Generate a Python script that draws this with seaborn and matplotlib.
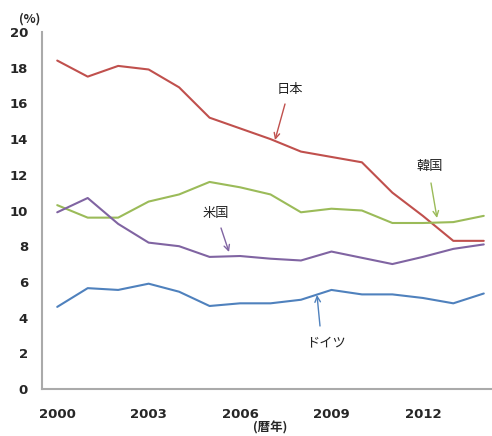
import matplotlib
matplotlib.use("Agg")
import matplotlib.pyplot as plt
import seaborn as sns
import pandas as pd

years = list(range(2000, 2015))
japan = [18.4, 17.5, 18.1, 17.9, 16.9, 15.2, 14.6, 14.0, 13.3, 13.0, 12.7, 11.0, 9.7, 8.3, 8.3]
korea = [10.3, 9.6, 9.6, 10.5, 10.9, 11.6, 11.3, 10.9, 9.9, 10.1, 10.0, 9.3, 9.3, 9.35, 9.7]
usa = [9.9, 10.7, 9.25, 8.2, 8.0, 7.4, 7.45, 7.3, 7.2, 7.7, 7.35, 7.0, 7.4, 7.85, 8.1]
germany = [4.6, 5.65, 5.55, 5.9, 5.45, 4.65, 4.8, 4.8, 5.0, 5.55, 5.3, 5.3, 5.1, 4.8, 5.35]
series_names = ["日本", "韓国", "米国", "ドイツ"]
colors = ["#C0504D", "#9BBB59", "#8064A2", "#4F81BD"]
year_labels = ["2000", "2003", "2006", "2009", "2012"]

sns.set_style("white")
plt.rcParams["font.family"] = ["Noto Sans CJK JP", "DejaVu Sans"]

rows = []
for name, vals in zip(series_names, [japan, korea, usa, germany]):
    for i, v in enumerate(vals):
        rows.append({"idx": i, "value": v, "country": name})
df = pd.DataFrame(rows)

fig = plt.figure(figsize=(4.92, 4.36), dpi=100)
ax = fig.add_axes([42 / 492, 1 - 389 / 436, 457 / 492, 357 / 436])

sns.lineplot(data=df, x="idx", y="value", hue="country", palette=colors,
             hue_order=series_names, linewidth=1.5, legend=False, ax=ax)

ax.set_xlim(-0.5, 14.5)
ax.set_ylim(0, 20)
ax.set_yticks(range(0, 21, 2))
ax.set_yticklabels([str(v) for v in range(0, 21, 2)], fontweight="bold", fontsize=9.5,
                   family=["DejaVu Sans"])
ax.set_xticks([0, 3, 6, 9, 12])
ax.set_xticklabels(year_labels, fontweight="bold", fontsize=9.5, family=["DejaVu Sans"])
ax.set_xticks([i + 0.5 for i in range(-1, 15)], minor=True)
ax.tick_params(axis="x", which="major", length=0, pad=14)
ax.tick_params(axis="x", which="minor", direction="in", length=4, color="#bbbbbb", width=1)
ax.tick_params(axis="y", length=0, pad=10)
ax.set_xlabel("")
ax.set_ylabel("")

for side in ["top", "right"]:
    ax.spines[side].set_visible(False)
for side in ["left", "bottom"]:
    ax.spines[side].set_color("#aaaaaa")
    ax.spines[side].set_linewidth(1.5)

fig.text(30 / 492, 1 - 19 / 436, "(%)", fontsize=9, fontweight="bold", ha="center", va="center")
fig.text(270 / 492, 1 - 428 / 436, "(暦年)", fontsize=9, fontweight="bold", ha="center", va="center")

# country labels with arrows pointing to their lines
notes = [
    ("日本", (290, 90), (285, 104), (275, 140), colors[0]),
    ("韓国", (430, 166), (431, 183), (437, 218), colors[1]),
    ("米国", (216, 213), (221, 228), (229, 252), colors[2]),
    ("ドイツ", (326, 343), (320, 326), (317, 295), colors[3]),
]
for text, tpos, start, end, col in notes:
    fig.text(tpos[0] / 492, 1 - tpos[1] / 436, text, fontsize=9.5, ha="center", va="center",
             color="#222222")
    ax.annotate("", xy=(end[0] / 492, 1 - end[1] / 436), xycoords="figure fraction",
                xytext=(start[0] / 492, 1 - start[1] / 436), textcoords="figure fraction",
                arrowprops=dict(arrowstyle="->", color=col, lw=1.0, shrinkA=0, shrinkB=0))

fig.savefig("out.png", dpi=100)
